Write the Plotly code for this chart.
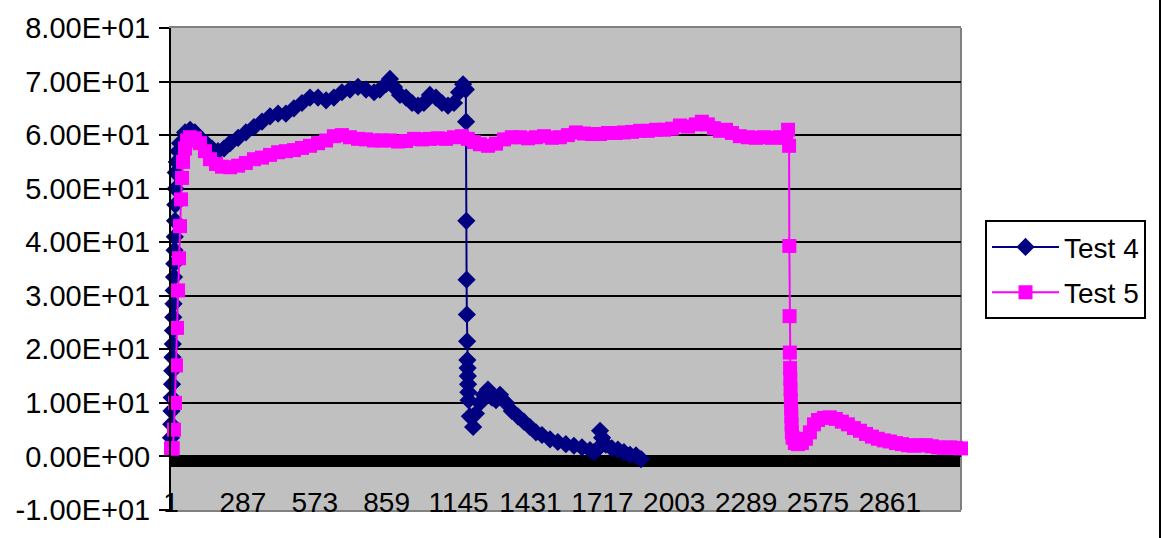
import plotly.graph_objects as go

# ---- data (category index, value) ----
test4_x = [1, 2, 3, 4, 5, 6, 7, 8, 9, 10, 11, 12, 13, 14, 15, 16, 17, 18, 19, 20, 24, 30,
           37, 57, 77, 96, 116, 140, 164, 188, 212, 236, 268, 299, 331, 363, 395, 427, 458,
           490, 522, 554, 586, 618, 649, 681, 713, 745, 777, 809, 832, 856, 872, 888, 912,
           936, 960, 984, 1007, 1031, 1055, 1079, 1103, 1127, 1147, 1163, 1174,
           1175, 1176, 1177, 1178, 1179, 1180, 1181, 1182, 1183, 1184, 1185,
           1190, 1203, 1214, 1230, 1246, 1262, 1278, 1294, 1310, 1334, 1357, 1381, 1405,
           1429, 1453, 1477, 1509, 1540, 1572, 1604, 1636, 1668, 1684, 1700, 1708, 1716,
           1731, 1755, 1779, 1803, 1827, 1851, 1871]
test4_y = [3.5, 6, 8.5, 11, 13.5, 16, 18.5, 21, 23.5, 26, 28.5, 31, 33.5, 36, 38.5, 41, 44, 47, 50, 53, 55, 57,
           58.5, 60.5, 61, 60.5, 59.5, 58.5, 57.5, 57, 57.5, 58.5, 59.5, 60.5, 61.5, 62.5, 63.5, 64, 64,
           65, 66, 67, 67, 66.5, 67, 68, 68.5, 69, 68.5, 68, 68.5, 69.5, 70.5, 69, 67.5,
           67, 66, 65.5, 66, 67.5, 67, 66, 65.5, 66, 68, 69.5, 68.5,
           62.5, 44, 33, 26.5, 21.5, 18, 16.5, 15, 13.5, 12, 10.5,
           7.5, 5.5, 8, 10, 11.5, 12.5, 11, 10.5, 11.5, 10, 8.5, 7.5, 6.5,
           5.5, 4.5, 4, 3.2, 2.7, 2.3, 2, 1.7, 1.2, 0.8, 1.5, 4.8, 3.5,
           2.2, 1.5, 1.3, 0.8, 0.3, 0.2, -0.5]

test5_x = [1, 4, 8, 13, 17, 21, 25, 29, 33, 37, 41, 45, 49, 57, 65, 77, 96, 116, 136, 156, 180,
           204, 236, 268, 299, 331, 363, 395, 427, 458, 490, 522, 554, 586, 618, 649, 681,
           713, 745, 777, 809, 840, 872, 904, 936, 968, 1000, 1031, 1063, 1095, 1127, 1159,
           1182, 1206, 1230, 1262, 1294, 1326, 1357, 1389, 1421, 1453, 1485, 1517, 1548,
           1580, 1612, 1644, 1676, 1708, 1739, 1771, 1803, 1835, 1867, 1898, 1930, 1962,
           1994, 2026, 2058, 2089, 2113, 2137, 2161, 2185, 2209, 2233, 2264, 2296, 2328,
           2360, 2392, 2424, 2448, 2456, 2460,
           2461, 2462, 2463, 2464, 2465, 2466, 2467, 2468, 2469, 2470, 2471,
           2474, 2483, 2495, 2511, 2527, 2543, 2559, 2575, 2599, 2622, 2646, 2670, 2694,
           2718, 2742, 2766, 2790, 2813, 2837, 2861, 2885, 2909, 2933, 2957, 2981, 3004,
           3028, 3052, 3076, 3100, 3124, 3144]
test5_y = [1.5, 1.5, 1.5, 5, 10, 17, 24, 31, 37, 43, 48, 52, 55, 57.5, 59, 59.6, 59.4, 58.5, 57, 55.5, 54.6,
           54.1, 54, 54.3, 54.8, 55.5, 55.8, 56.3, 56.8, 57, 57.2, 57.6, 58, 58.5, 59, 59.8, 60,
           59.6, 59.3, 59.2, 59, 59, 59, 58.8, 58.9, 59.3, 59.2, 59.3, 59.4, 59.3, 59.6, 59.8,
           59.3, 58.7, 58.3, 58, 58.4, 59.2, 59.6, 59.6, 59.4, 59.6, 59.8, 59.5, 59.6,
           60, 60.5, 60.3, 60.2, 60.2, 60.4, 60.4, 60.5, 60.6, 60.8, 60.8, 61, 61,
           61.2, 61.8, 61.6, 62, 62.5, 62, 61.3, 60.8, 61, 60.4, 59.8, 59.6, 59.5,
           59.6, 59.5, 59.6, 59.5, 61, 58,
           39.3, 26.2, 19.4, 16.5, 14.5, 12.5, 10.5, 9, 7.5, 6, 4.5,
           3.5, 2.5, 2.3, 2.5, 3.3, 4.5, 6, 6.8, 7.2, 7.3, 7, 6.5, 6,
           5.3, 4.8, 4.2, 3.7, 3.3, 3, 2.8, 2.5, 2.3, 2.1, 2, 2.1, 2.1,
           1.9, 1.7, 1.6, 1.7, 1.6, 1.5]

x_ticks = [1, 287, 573, 859, 1145, 1431, 1717, 2003, 2289, 2575, 2861]
y_ticks = [-10, 0, 10, 20, 30, 40, 50, 60, 70, 80]
y_labels = ["-1.00E+01", "0.00E+00", "1.00E+01", "2.00E+01", "3.00E+01",
            "4.00E+01", "5.00E+01", "6.00E+01", "7.00E+01", "8.00E+01"]

FONT = "Liberation Sans, Arial, sans-serif"

fig = go.Figure()
fig.add_trace(go.Scatter(
    x=test4_x, y=test4_y, name="Test 4", mode="lines+markers",
    line=dict(color="#000080", width=2),
    marker=dict(symbol="diamond", size=14, color="#000080"),
    cliponaxis=False, legendgroup="a"))
fig.add_trace(go.Scatter(
    x=test5_x, y=test5_y, name="Test 5", mode="lines+markers",
    line=dict(color="#FF00FF", width=2),
    marker=dict(symbol="square", size=14, color="#FF00FF"),
    cliponaxis=False, legendgroup="b"))

L, R, T, B = 171, 201, 25, 24
W, H = 1162, 538
pw, ph = W - L - R, H - T - B

fig.update_layout(
    width=W, height=H,
    margin=dict(l=L, r=R, t=T, b=B),
    paper_bgcolor="white", plot_bgcolor="#C0C0C0",
    font=dict(family=FONT, size=28, color="black"),
    showlegend=True,
    legend=dict(
        x=(985 - L) / pw, y=(H - B - 220) / ph, xanchor="left", yanchor="top",
        bgcolor="white", bordercolor="black", borderwidth=2,
        font=dict(family=FONT, size=28, color="black"),
        tracegroupgap=6, itemwidth=67,
    ),
    xaxis=dict(
        range=[1, 3144], tickmode="array", tickvals=x_ticks,
        ticktext=[str(v) for v in x_ticks],
        ticks="", showgrid=False, zeroline=False,
        showline=True, linecolor="#808080", linewidth=2, mirror=True,
        ticklabelstandoff=-34,
        tickfont=dict(family=FONT, size=28, color="black"),
    ),
    yaxis=dict(
        range=[-10, 80], tickmode="array", tickvals=y_ticks, ticktext=y_labels,
        ticks="outside", ticklen=10, tickwidth=2, tickcolor="black",
        showgrid=True, gridcolor="black", gridwidth=2, zeroline=False,
        showline=True, linecolor="black", linewidth=2, mirror=False,
        tickfont=dict(family=FONT, size=29, color="black"),
        ticklabelstandoff=3,
    ),
    shapes=[
        # thick category axis at y = 0
        dict(type="rect", xref="paper", yref="y", x0=0, x1=1, y0=0.25, y1=-1.95,
             fillcolor="black", line=dict(width=0), layer="between"),
        # right border of plot area
        dict(type="line", xref="paper", yref="paper", x0=1, x1=1, y0=0, y1=1,
             line=dict(color="#808080", width=2), layer="below"),
        # chart area border at right edge
        dict(type="line", xref="paper", yref="paper",
             x0=(1160 - L) / pw, x1=(1160 - L) / pw, y0=-0.1, y1=1.1,
             line=dict(color="black", width=2)),
    ],
)

fig.write_html("out.html")
